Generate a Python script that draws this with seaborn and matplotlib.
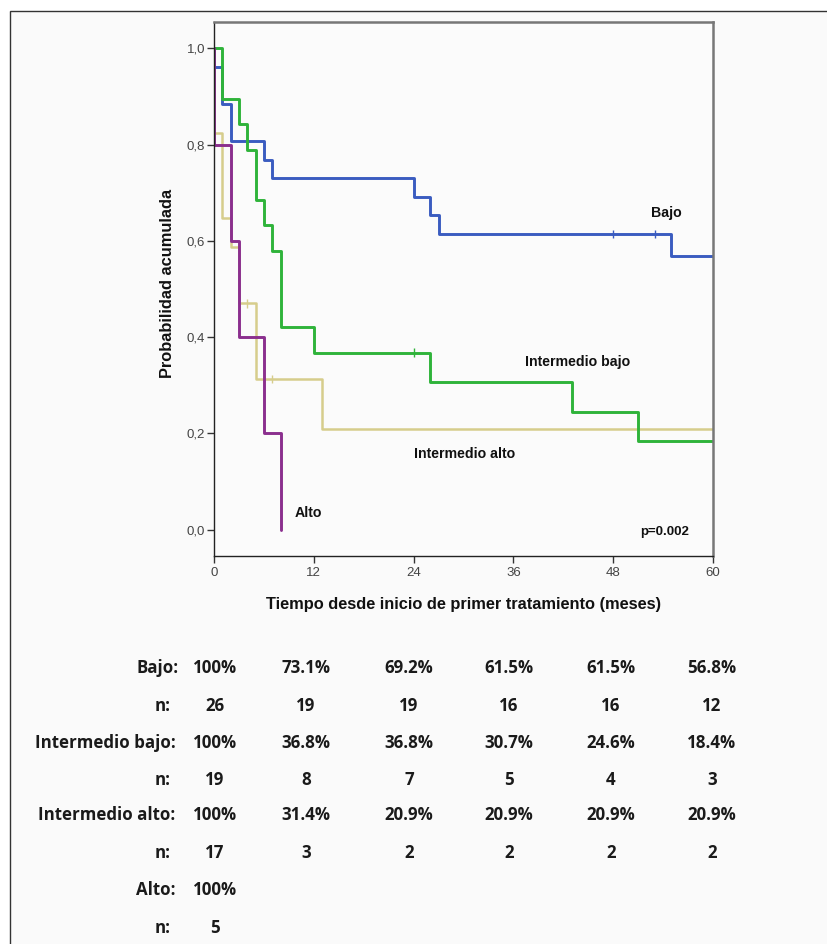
import matplotlib
matplotlib.use("Agg")
import numpy as np
import pandas as pd
import seaborn as sns
import matplotlib.pyplot as plt
from matplotlib.patches import Rectangle

# ---------------- data ----------------
grupos = ["Intermedio alto", "Bajo", "Intermedio bajo", "Alto"]

bajo_t = [0, 0, 1, 2, 6, 7, 24, 26, 27, 55, 60]
bajo_s = [1.0, 0.962, 0.885, 0.808, 0.769, 0.731, 0.692, 0.654, 0.615, 0.568, 0.568]
bajo_cens_t = [48, 53]
bajo_cens_s = [0.615, 0.615]

ibajo_t = [0, 1, 3, 4, 5, 6, 7, 8, 12, 26, 43, 51, 60]
ibajo_s = [1.0, 0.895, 0.842, 0.789, 0.684, 0.632, 0.579, 0.421, 0.368, 0.307, 0.245, 0.184, 0.184]
ibajo_cens_t = [24]
ibajo_cens_s = [0.368]

ialto_t = [0, 0, 1, 2, 3, 5, 13, 60]
ialto_s = [1.0, 0.824, 0.647, 0.588, 0.470, 0.313, 0.209, 0.209]
ialto_cens_t = [4, 7]
ialto_cens_s = [0.470, 0.313]

alto_t = [0, 0, 2, 3, 6, 8]
alto_s = [1.0, 0.8, 0.6, 0.4, 0.2, 0.0]

x_ticks = [0, 12, 24, 36, 48, 60]
y_ticks = [0.0, 0.2, 0.4, 0.6, 0.8, 1.0]
y_ticklabels = ["0,0", "0,2", "0,4", "0,6", "0,8", "1,0"]

tabla_grupos = ["Bajo", "Intermedio bajo", "Intermedio alto", "Alto"]
tabla_pct = [
    ["100%", "73.1%", "69.2%", "61.5%", "61.5%", "56.8%"],
    ["100%", "36.8%", "36.8%", "30.7%", "24.6%", "18.4%"],
    ["100%", "31.4%", "20.9%", "20.9%", "20.9%", "20.9%"],
    ["100%"],
]
tabla_n = [
    ["26", "19", "19", "16", "16", "12"],
    ["19", "8", "7", "5", "4", "3"],
    ["17", "3", "2", "2", "2", "2"],
    ["5"],
]

colores = {
    "Bajo": "#3a5cc0",
    "Intermedio bajo": "#2fb33a",
    "Intermedio alto": "#d6cd8c",
    "Alto": "#8b2f8e",
}

# ---------------- frames ----------------
curvas = {
    "Bajo": (bajo_t, bajo_s),
    "Intermedio bajo": (ibajo_t, ibajo_s),
    "Intermedio alto": (ialto_t, ialto_s),
    "Alto": (alto_t, alto_s),
}
rows = []
for g in grupos:
    t, s = curvas[g]
    for a, b in zip(t, s):
        rows.append({"grupo": g, "tiempo": a, "prob": b})
df = pd.DataFrame(rows)

cens = {
    "Bajo": (bajo_cens_t, bajo_cens_s),
    "Intermedio bajo": (ibajo_cens_t, ibajo_cens_s),
    "Intermedio alto": (ialto_cens_t, ialto_cens_s),
}
crow = []
for g, (t, s) in cens.items():
    for a, b in zip(t, s):
        crow.append({"grupo": g, "tiempo": a, "prob": b})
cdf = pd.DataFrame(crow)

# ---------------- plot ----------------
sns.set_theme(style="white")
plt.rcParams["font.family"] = ["Liberation Sans", "DejaVu Sans"]

W, H = 828, 944
fig = plt.figure(figsize=(W / 100, H / 100), dpi=100)
fig.patch.set_facecolor("white")
fig.add_artist(Rectangle((9.5 / W, -0.01), 1.05, 1 - 10.5 / H + 0.01,
                         transform=fig.transFigure, facecolor="#fafafa",
                         edgecolor="#333333", lw=1.0, zorder=-10))

ax = fig.add_axes([214 / W, 1 - 556 / H, (713 - 214) / W, (556 - 22) / H])
ax.set_facecolor("#fbfbfb")

sns.lineplot(data=df, x="tiempo", y="prob", hue="grupo", hue_order=grupos,
             palette=colores, estimator=None, sort=False, drawstyle="steps-post",
             linewidth=2.1, legend=False, ax=ax)
for line in ax.lines:
    if matplotlib.colors.to_hex(line.get_color()) == colores["Intermedio alto"]:
        line.set_linewidth(1.8)

sns.scatterplot(data=cdf, x="tiempo", y="prob", hue="grupo", palette=colores,
                marker="|", s=35, linewidth=1.0, legend=False, ax=ax, zorder=5)

ax.set_xlim(0, 60)
ax.set_ylim(-0.055, 1.055)
ax.set_xticks(x_ticks)
ax.set_xticklabels([str(v) for v in x_ticks])
ax.set_yticks(y_ticks)
ax.set_yticklabels(y_ticklabels)
ax.tick_params(axis="both", direction="out", length=5, width=1.0, color="#333333",
               labelsize=9.5, labelcolor="#444444", bottom=True, left=True)
ax.tick_params(axis="y", pad=1.5)
ax.tick_params(axis="x", pad=3)

for sp in ["left", "bottom"]:
    ax.spines[sp].set_color("#222222")
    ax.spines[sp].set_linewidth(1.0)
for sp in ["top", "right"]:
    ax.spines[sp].set_color("#777777")
    ax.spines[sp].set_linewidth(1.8)

ax.set_xlabel("Tiempo desde inicio de primer tratamiento (meses)",
              fontsize=11.8, fontweight="bold", color="#111111", va="center")
ax.xaxis.set_label_coords(0.5, -(605 - 556) / 534)
ax.set_ylabel("Probabilidad acumulada", fontsize=11.8, fontweight="bold",
              color="#111111", va="center")
ax.yaxis.set_label_coords(-(214 - 168) / 499, (556 - 283.5) / 534)

lab_kw = dict(fontsize=10.2, fontweight="bold", color="#111111", ha="center", va="center")
ax.text(54.4, 0.658, "Bajo", **lab_kw)
ax.text(43.7, 0.348, "Intermedio bajo", **lab_kw)
ax.text(30.1, 0.158, "Intermedio alto", **lab_kw)
ax.text(11.3, 0.035, "Alto", **lab_kw)
ax.text(54.2, -0.006, "p=0.002", fontsize=9.5, fontweight="bold", color="#111111",
        ha="center", va="center")

# ---------------- table ----------------
col_x = [215, 306, 409, 509, 611, 712]
row_y = [668, 706, 743, 780, 815, 853, 890, 928]
lab_right = [179, 176, 175, 176]
tfont = dict(family=["Open Sans", "DejaVu Sans"], fontsize=12.2, fontweight="bold", color="#1a1a1a")

def ftxt(x, y, s, ha):
    fig.text(x / W, 1 - y / H, s, ha=ha, va="center", **tfont)

for i, g in enumerate(tabla_grupos):
    y1 = row_y[2 * i]
    y2 = row_y[2 * i + 1]
    ftxt(lab_right[i], y1, g + ":", "right")
    ftxt(171, y2, "n:", "right")
    for j, v in enumerate(tabla_pct[i]):
        ftxt(col_x[j], y1, v, "center")
    for j, v in enumerate(tabla_n[i]):
        ftxt(col_x[j], y2, v, "center")

fig.savefig("out.png", dpi=100, facecolor=fig.get_facecolor())
